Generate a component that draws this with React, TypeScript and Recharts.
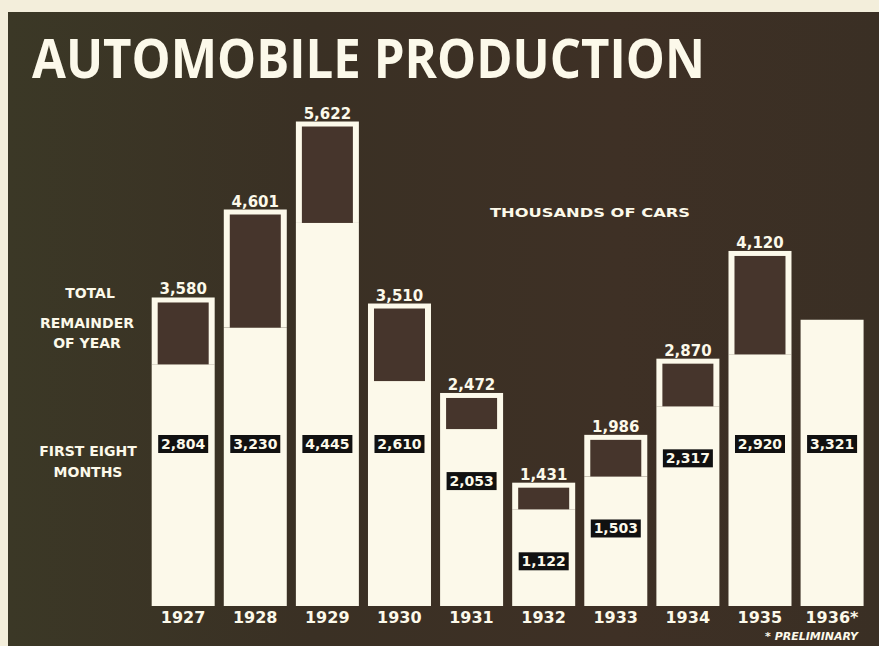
import React from 'react';
import { BarChart, Bar, XAxis, YAxis, LabelList } from 'recharts';

const years = ['1927', '1928', '1929', '1930', '1931', '1932', '1933', '1934', '1935', '1936*'];
const totals: (number | null)[] = [3580, 4601, 5622, 3510, 2472, 1431, 1986, 2870, 4120, null];
const firstEight = [2804, 3230, 4445, 2610, 2053, 1122, 1503, 2317, 2920, 3321];

const title = 'AUTOMOBILE PRODUCTION';
const unitsNote = 'THOUSANDS OF CARS';
const legendTotal = 'TOTAL';
const legendRemainder = ['REMAINDER', 'OF YEAR'];
const legendFirst = ['FIRST EIGHT', 'MONTHS'];
const footnote = '* PRELIMINARY';

const data = years.map((year, i) => ({
  year,
  first: firstEight[i],
  remainder: totals[i] != null ? (totals[i] as number) - firstEight[i] : 0,
  total: totals[i],
}));

const CREAM = '#fcf9ea';
const DARK = '#3a3024';
const BOX = '#46352c';
const FONT = '"DejaVu Sans", sans-serif';

const fmt = (v: number) => v.toLocaleString('en-US');

const RemainderShape = (props: any) => {
  const { x, y, width, height } = props;
  if (!height || height <= 0) return null;
  return (
    <g>
      <rect x={x} y={y} width={width} height={height} fill={CREAM} />
      <rect x={x + 6} y={y + 5} width={Math.max(0, width - 12)} height={Math.max(0, height - 5)} fill={BOX} />
    </g>
  );
};

const TotalLabel = (props: any) => {
  const { x, y, width, value } = props;
  if (value == null) return null;
  return (
    <text x={x + width / 2} y={y - 3} textAnchor="middle" fill={CREAM} fontFamily={FONT} fontWeight="bold" fontSize={15}>
      {fmt(value)}
    </text>
  );
};

const FirstLabel = (props: any) => {
  const { x, y, width, height, value } = props;
  const bottom = y + height;
  const cy = Math.max(y + 52, bottom - 162);
  const cx = x + width / 2;
  return (
    <g>
      <rect x={cx - 25} y={cy - 9} width={50} height={18} fill="#111" />
      <text x={cx} y={cy + 5} textAnchor="middle" fill={CREAM} fontFamily={FONT} fontWeight="bold" fontSize={14}>
        {fmt(value)}
      </text>
    </g>
  );
};

const YearTick = (props: any) => {
  const { x, y, payload } = props;
  return (
    <text x={x} y={y + 17} textAnchor="middle" fill={CREAM} fontFamily={FONT} fontWeight="bold" fontSize={16}>
      {payload.value}
    </text>
  );
};

export default function App() {
  return (
    <div style={{ position: 'absolute', left: 0, top: 0, width: 879, height: 646, background: '#f3eedb', overflow: 'hidden' }}>
      <div style={{ position: 'absolute', left: 8, top: 12, width: 871, height: 634, background: `linear-gradient(90deg, #3b3826 0%, ${DARK} 35%, #3e3025 70%, #3a2f24 100%)` }}>
        <BarChart
          width={871}
          height={634}
          data={data}
          margin={{ top: 8, right: 11, left: 139, bottom: 0 }}
          barCategoryGap="6.5%"
        >
          <XAxis dataKey="year" axisLine={false} tickLine={false} tickSize={0} tickMargin={0} height={40} tick={<YearTick />} interval={0} />
          <YAxis hide domain={[0, 6800]} />
          <Bar dataKey="first" stackId="a" fill={CREAM} isAnimationActive={false}>
            <LabelList dataKey="first" content={<FirstLabel />} />
          </Bar>
          <Bar dataKey="remainder" stackId="a" shape={<RemainderShape />} isAnimationActive={false}>
            <LabelList dataKey="total" content={<TotalLabel />} />
          </Bar>
        </BarChart>
      </div>
      <svg width={879} height={646} style={{ position: 'absolute', left: 0, top: 0, pointerEvents: 'none' }}>
        <text x={32} y={78} fill={CREAM} fontFamily='"Open Sans", sans-serif' fontWeight="bold" fontSize={53} textLength={673} lengthAdjust="spacingAndGlyphs">
          {title}
        </text>
        <text x={590} y={217} textAnchor="middle" fill={CREAM} fontFamily={FONT} fontWeight="bold" fontSize={13} textLength={200} lengthAdjust="spacingAndGlyphs">
          {unitsNote}
        </text>
        <text x={90} y={298} textAnchor="middle" fill={CREAM} fontFamily={FONT} fontWeight="bold" fontSize={14}>
          {legendTotal}
        </text>
        <text x={87} y={328} textAnchor="middle" fill={CREAM} fontFamily={FONT} fontWeight="bold" fontSize={14}>
          {legendRemainder[0]}
        </text>
        <text x={87} y={348} textAnchor="middle" fill={CREAM} fontFamily={FONT} fontWeight="bold" fontSize={14}>
          {legendRemainder[1]}
        </text>
        <text x={88} y={456} textAnchor="middle" fill={CREAM} fontFamily={FONT} fontWeight="bold" fontSize={14}>
          {legendFirst[0]}
        </text>
        <text x={88} y={477} textAnchor="middle" fill={CREAM} fontFamily={FONT} fontWeight="bold" fontSize={14}>
          {legendFirst[1]}
        </text>
        <text x={858} y={640} textAnchor="end" fill={CREAM} fontFamily={FONT} fontWeight="bold" fontStyle="italic" fontSize={11}>
          {footnote}
        </text>
      </svg>
    </div>
  );
}
